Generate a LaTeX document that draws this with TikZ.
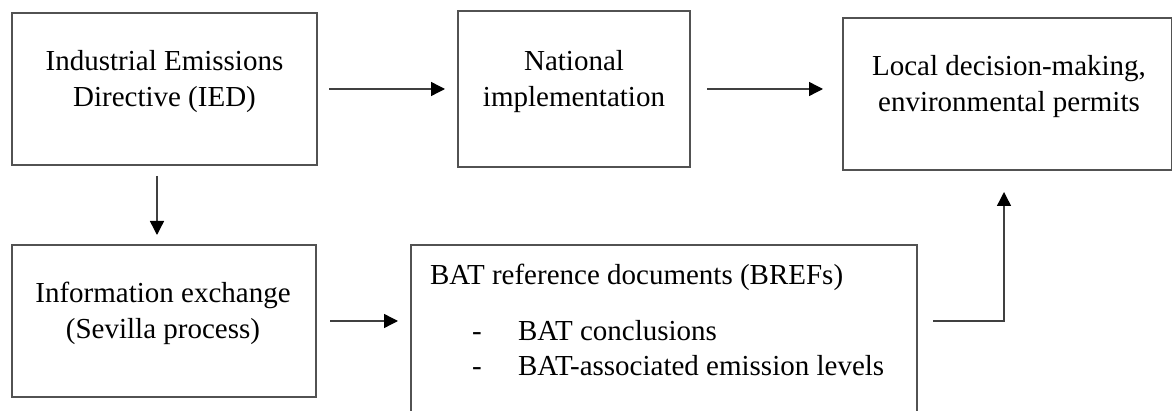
\documentclass[tikz,border=0pt]{standalone}
\usepackage{fontspec}
\setmainfont{Liberation Serif}
\usetikzlibrary{arrows.meta}
\begin{document}
\begin{tikzpicture}[x=1pt,y=-1pt,
  box/.style={draw=black!68, line width=1.4pt, inner sep=0pt, outer sep=0pt},
  txt/.style={inner sep=0pt, outer sep=0pt, align=center, font=\fontsize{29}{36}\selectfont},
  ltxt/.style={inner sep=0pt, outer sep=0pt, anchor=base west, font=\fontsize{29}{36}\selectfont},
  arr/.style={draw=black!75, line width=1.4pt, -{Triangle[length=14pt,width=14pt,color=black]}}]
\clip (0,0) rectangle (1173,411);
% boxes
\node[box, minimum width=305pt, minimum height=152pt] (ied) at (164.5,89) {};
\node[box, minimum width=232pt, minimum height=156pt] (nat) at (574,89) {};
\node[box, minimum width=328.5pt, minimum height=152pt] (loc) at (1007.25,94) {};
\node[box, minimum width=304pt, minimum height=152pt] (info) at (164,321) {};
\node[box, minimum width=506pt, minimum height=180pt] (bref) at (664,335) {};
% texts
\node[txt, anchor=base] (iedt) at (164.5,107) {Industrial Emissions\\Directive (IED)};
\node[txt, anchor=base] (natt) at (574,107) {National\\implementation};
\node[txt, anchor=base] (loct) at (1009,112) {Local decision-making,\\environmental permits};
\node[txt, anchor=base] (infot) at (163,339) {Information exchange\\(Sevilla process)};
\node[ltxt] (breft) at (430,285) {BAT reference documents (BREFs)};
\node[ltxt] (d1) at (472,341) {-};
\node[ltxt] (b1) at (518,341) {BAT conclusions};
\node[ltxt] (d2) at (472,376) {-};
\node[ltxt] (b2) at (518,376) {BAT-associated emission levels};
% connectors
\draw[arr] ([xshift=12pt]ied.east) -- ([xshift=-13pt]nat.west);
\draw[arr] ([xshift=17pt]nat.east) -- ([xshift=-20pt]nat.east -| loc.west);
\draw[arr] ([xshift=-7.5pt,yshift=-11pt]ied.south) -- ([xshift=-7pt,yshift=10pt]info.north);
\draw[arr] ([xshift=14pt]info.east) -- ([xshift=-13pt]info.east -| bref.west);
\draw[arr] ([xshift=16pt]info.east -| bref.east) -| ([xshift=-3.25pt,yshift=-22pt]loc.south);
\end{tikzpicture}
\end{document}
